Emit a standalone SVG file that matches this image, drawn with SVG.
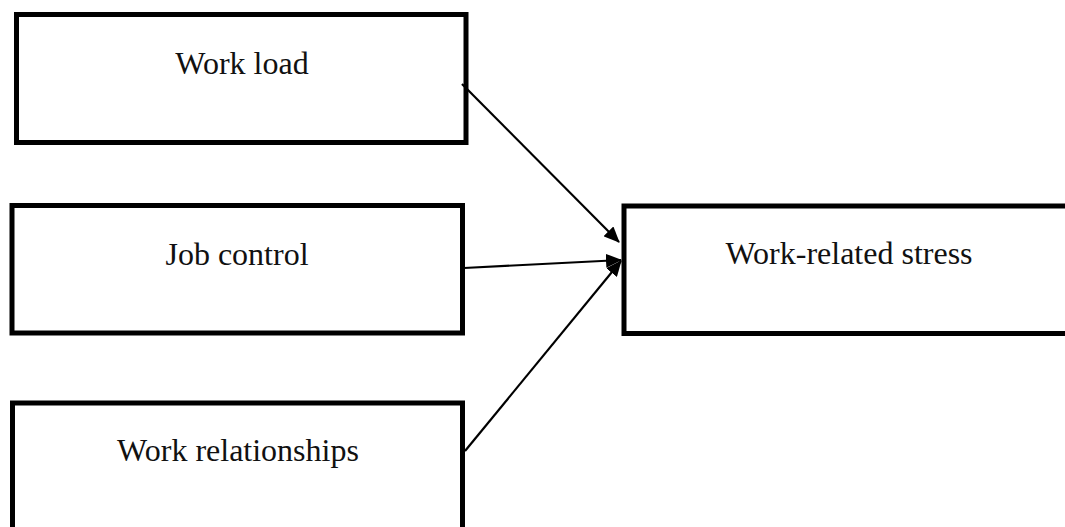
<svg xmlns="http://www.w3.org/2000/svg" width="1065" height="527" viewBox="0 0 1065 527">
<style>
.box{fill:#fff;stroke:#000;stroke-width:5}
.lbl{font-family:"Liberation Serif","Times New Roman",serif;font-size:32px;fill:#111;text-anchor:middle}
.conn{stroke:#000;stroke-width:2.2;fill:none}
</style>
<defs>
<marker id="arr" markerUnits="userSpaceOnUse" markerWidth="16" markerHeight="14" refX="15" refY="7" orient="auto">
<polygon points="0,0 16,7 0,14" fill="#000"/>
</marker>
</defs>
<rect width="1065" height="527" fill="#fff"/>
<g id="node-workload">
<rect class="box" x="16.5" y="14.5" width="449.5" height="128"/>
<text class="lbl" x="242" y="74">Work load</text>
</g>
<g id="node-jobcontrol">
<rect class="box" x="12" y="205.5" width="450.5" height="127.5"/>
<text class="lbl" x="237" y="265">Job control</text>
</g>
<g id="node-workrelationships">
<rect class="box" x="12.5" y="403" width="450" height="140"/>
<text class="lbl" x="238" y="461">Work relationships</text>
</g>
<g id="node-stress">
<rect class="box" x="624" y="206" width="460" height="127.5"/>
<text class="lbl" x="849" y="264">Work-related stress</text>
</g>
<g id="connectors">
<line class="conn" x1="462" y1="84" x2="619" y2="242" marker-end="url(#arr)"/>
<line class="conn" x1="464" y1="268" x2="621" y2="260" marker-end="url(#arr)"/>
<line class="conn" x1="465" y1="451" x2="621" y2="261" marker-end="url(#arr)"/>
</g>
</svg>
